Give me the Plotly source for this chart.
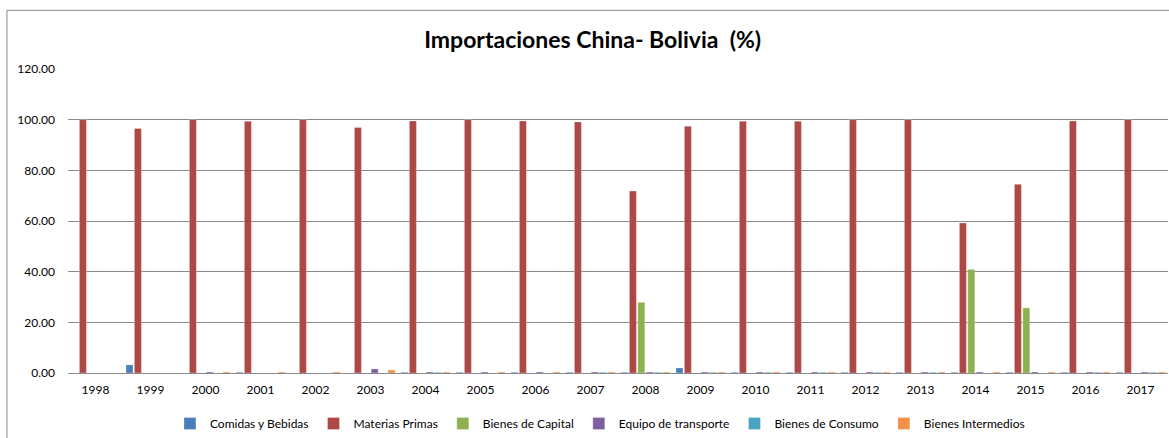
import plotly.graph_objects as go

years = [str(y) for y in range(1998, 2018)]

comidas_bebidas = [0, 3.2, 0, 0.3, 0, 0, 0.3, 0.3, 0.3, 0.3, 0.3, 2.0, 0.3, 0.3, 0.3, 0.3, 0.3, 0.3, 0.3, 0.3]
materias_primas = [100, 96.5, 100, 99.4, 100, 96.9, 99.5, 100, 99.5, 99.1, 71.8, 97.4, 99.4, 99.4, 100, 100, 59.2, 74.5, 99.5, 100]
bienes_capital = [0, 0, 0, 0, 0, 0, 0, 0, 0, 0, 27.9, 0, 0, 0, 0, 0, 40.9, 25.7, 0, 0]
equipo_transporte = [0, 0, 0.4, 0, 0, 1.6, 0.4, 0.4, 0.4, 0.4, 0.4, 0.4, 0.4, 0.4, 0.4, 0.4, 0.4, 0.4, 0.4, 0.4]
bienes_consumo = [0, 0, 0, 0, 0, 0, 0.3, 0, 0, 0.3, 0.3, 0.3, 0.3, 0.3, 0.3, 0.3, 0, 0, 0.3, 0.3]
bienes_intermedios = [0, 0, 0.4, 0.4, 0.4, 1.2, 0.4, 0.4, 0.4, 0.4, 0.4, 0.4, 0.4, 0.4, 0.4, 0.4, 0.4, 0.4, 0.4, 0.4]

series_names = ["Comidas y Bebidas", "Materias Primas", "Bienes de Capital",
                "Equipo de transporte", "Bienes de Consumo", "Bienes Intermedios"]
series_values = [comidas_bebidas, materias_primas, bienes_capital,
                 equipo_transporte, bienes_consumo, bienes_intermedios]
colors = ["#4A7EBB", "#AD4846", "#8FB050", "#7D60A0", "#4AA6C0", "#F0904A"]

y_ticks = [0, 20, 40, 60, 80, 100, 120]
y_tick_labels = ["0.00", "20.00", "40.00", "60.00", "80.00", "100.00", "120.00"]

FONT = "Lato, 'Open Sans', sans-serif"

fig = go.Figure()
for name, vals, col in zip(series_names, series_values, colors):
    fig.add_trace(go.Bar(
        x=years, y=vals, name=name,
        marker=dict(color=col, line=dict(color="rgba(255,255,255,0.45)", width=0.6)),
    ))

fig.update_layout(
    width=1169, height=438,
    barmode="group", bargap=0.084, bargroupgap=0.17,
    paper_bgcolor="white", plot_bgcolor="white",
    margin=dict(l=68, r=1, t=69, b=64),
    font=dict(family=FONT, size=12, color="#000000"),
    title=dict(text="<b>Importaciones China- Bolivia  (%)</b>",
               x=0.507, xanchor="center", y=0.909, yanchor="middle",
               font=dict(family=FONT, size=23, color="#000000")),
    legend=dict(orientation="h", x=0.4836, xanchor="center", y=-0.164, yanchor="middle",
                font=dict(family=FONT, size=12, color="#000000"),
                itemwidth=30, tracegroupgap=0, traceorder="normal"),
    xaxis=dict(type="category", showgrid=False, showline=False, ticks="",
               tickfont=dict(size=12), ticklabelstandoff=8),
    yaxis=dict(range=[0, 120], tickvals=y_ticks, ticktext=y_tick_labels,
               showgrid=True, gridcolor="#8A8A8A", gridwidth=1,
               zeroline=True, zerolinecolor="#8A8A8A", zerolinewidth=1,
               showline=False, ticks="", tickfont=dict(size=12),
               ticklabelstandoff=12),
    shapes=[dict(type="rect", xref="paper", yref="paper",
                 x0=-0.0555, x1=1.06, y0=-0.3, y1=1.193,
                 line=dict(color="#868686", width=1), fillcolor="rgba(0,0,0,0)",
                 layer="below")],
)

fig.write_html("out.html")
